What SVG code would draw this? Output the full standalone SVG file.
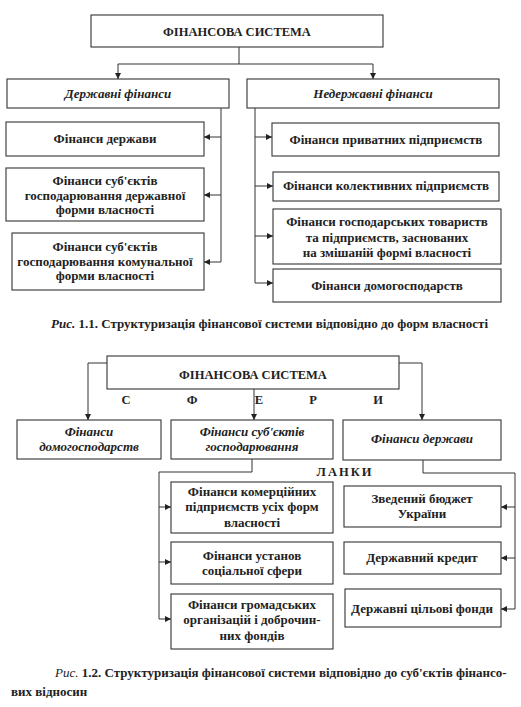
<svg xmlns="http://www.w3.org/2000/svg" width="521" height="707" viewBox="0 0 521 707">
<defs>
<marker id="ah" markerUnits="userSpaceOnUse" markerWidth="7" markerHeight="6" refX="6" refY="3" orient="auto">
<path d="M0,0 L6,3 L0,6 Z" fill="#222"/>
</marker>
<style>
.box{fill:#fff;stroke:#333;stroke-width:1.1}
.t{font-family:"Liberation Serif","Times New Roman",serif;font-size:13px;font-weight:bold;fill:#222;text-anchor:middle}
.h{font-size:12.5px}
.i{font-style:italic}
.c{font-family:"Liberation Serif","Times New Roman",serif;font-size:13px;font-weight:bold;fill:#222}
.ln{fill:none;stroke:#333;stroke-width:1}
.ar{fill:none;stroke:#333;stroke-width:1;marker-end:url(#ah)}
</style>
</defs>
<rect width="521" height="707" fill="#fff"/>

<g id="connectors">
<path class="ln" d="M239 47V64M118 64H373"/>
<path class="ar" d="M118 64V79"/>
<path class="ar" d="M373 64V79"/>
<path class="ln" d="M221 108V262"/>
<path class="ar" d="M221 137H204"/>
<path class="ar" d="M221 195H204"/>
<path class="ar" d="M221 262H204"/>
<path class="ln" d="M255 108V283"/>
<path class="ar" d="M255 137H272"/>
<path class="ar" d="M255 186H273"/>
<path class="ar" d="M255 236H273"/>
<path class="ar" d="M255 283H273"/>

<path class="ar" d="M107 363H88V420"/>
<path class="ar" d="M399 363H422V420"/>
<path class="ar" d="M254 389V420"/>
<path class="ln" d="M252 459V472H159V619"/>
<path class="ar" d="M159 507H171"/>
<path class="ar" d="M159 562H171"/>
<path class="ar" d="M159 619H171"/>
<path class="ln" d="M423 460V473H515V609"/>
<path class="ar" d="M515 507H501"/>
<path class="ar" d="M515 558H501"/>
<path class="ar" d="M515 609H501"/>
</g>

<g id="fs1"><rect class="box" x="91" y="15" width="292" height="32"/><text class="t h" x="237" y="36">ФІНАНСОВА СИСТЕМА</text></g>
<g id="state"><rect class="box" x="7" y="79" width="222" height="29"/><text class="t i" x="118" y="98">Державні фінанси</text></g>
<g id="nonstate"><rect class="box" x="247" y="79" width="252" height="29"/><text class="t i" x="373" y="98">Недержавні фінанси</text></g>

<g id="l1"><rect class="box" x="6" y="122" width="198" height="34"/><text class="t" x="105" y="143">Фінанси держави</text></g>
<g id="l2"><rect class="box" x="6" y="168" width="198" height="53"/><text class="t" x="105" y="185">Фінанси суб'єктів</text><text class="t" x="105" y="200">господарювання державної</text><text class="t" x="105" y="214">форми власності</text></g>
<g id="l3"><rect class="box" x="12" y="233" width="192" height="57"/><text class="t" x="105" y="251">Фінанси суб'єктів</text><text class="t" x="105" y="266">господарювання комунальної</text><text class="t" x="105" y="280">форми власності</text></g>

<g id="r1"><rect class="box" x="272" y="123" width="227" height="33"/><text class="t" x="386" y="144">Фінанси приватних підприємств</text></g>
<g id="r2"><rect class="box" x="273" y="172" width="226" height="29"/><text class="t" x="386" y="190">Фінанси колективних підприємств</text></g>
<g id="r3"><rect class="box" x="273" y="209" width="228" height="55"/><text class="t" x="387" y="226">Фінанси господарських товариств</text><text class="t" x="387" y="242">та підприємств, заснованих</text><text class="t" x="387" y="257">на змішаній формі власності</text></g>
<g id="r4"><rect class="box" x="273" y="269" width="228" height="33"/><text class="t" x="387" y="290">Фінанси домогосподарств</text></g>

<text class="c" x="51" y="328"><tspan font-style="italic">Рис.</tspan> 1.1. Структуризація фінансової системи відповідно до форм власності</text>

<g id="fs2"><rect class="box" x="107" y="356" width="292" height="33"/><text class="t h" x="253" y="379">ФІНАНСОВА СИСТЕМА</text></g>
<g id="spheres">
<text class="t h" x="126" y="404">С</text><text class="t h" x="192" y="404">Ф</text><text class="t h" x="259" y="404">Е</text><text class="t h" x="313" y="404">Р</text><text class="t h" x="378" y="404">И</text>
</g>
<g id="hh"><rect class="box" x="17" y="420" width="144" height="39"/><text class="t i" x="89" y="436">Фінанси</text><text class="t i" x="89" y="451">домогосподарств</text></g>
<g id="ent"><rect class="box" x="171" y="420" width="162" height="39"/><text class="t i" x="252" y="436">Фінанси суб'єктів</text><text class="t i" x="252" y="451">господарювання</text></g>
<g id="gov"><rect class="box" x="343" y="420" width="158" height="40"/><text class="t i" x="422" y="443">Фінанси держави</text></g>
<text class="t h" x="345" y="476" letter-spacing="2">ЛАНКИ</text>

<g id="m1"><rect class="box" x="171" y="482" width="162" height="51"/><text class="t" x="252" y="496">Фінанси комерційних</text><text class="t" x="252" y="511">підприємств усіх форм</text><text class="t" x="252" y="527">власності</text></g>
<g id="m2"><rect class="box" x="171" y="542" width="162" height="42"/><text class="t" x="252" y="560">Фінанси установ</text><text class="t" x="252" y="575">соціальної сфери</text></g>
<g id="m3"><rect class="box" x="171" y="594" width="162" height="55"/><text class="t" x="252" y="609">Фінанси громадських</text><text class="t" x="252" y="624">організацій і доброчин-</text><text class="t" x="252" y="640">них фондів</text></g>

<g id="g1"><rect class="box" x="344" y="486" width="157" height="41"/><text class="t" x="422" y="503">Зведений бюджет</text><text class="t" x="422" y="518">України</text></g>
<g id="g2"><rect class="box" x="344" y="542" width="157" height="32"/><text class="t" x="422" y="562">Державний кредит</text></g>
<g id="g3"><rect class="box" x="345" y="589" width="156" height="38"/><text class="t" x="422" y="613">Державні цільові фонди</text></g>

<text class="c" x="55" y="677"><tspan font-style="italic" font-weight="normal">Рис.</tspan> 1.2. Структуризація фінансової системи відповідно до суб'єктів фінансо-</text>
<text class="c" x="11" y="696">вих відносин</text>
</svg>
